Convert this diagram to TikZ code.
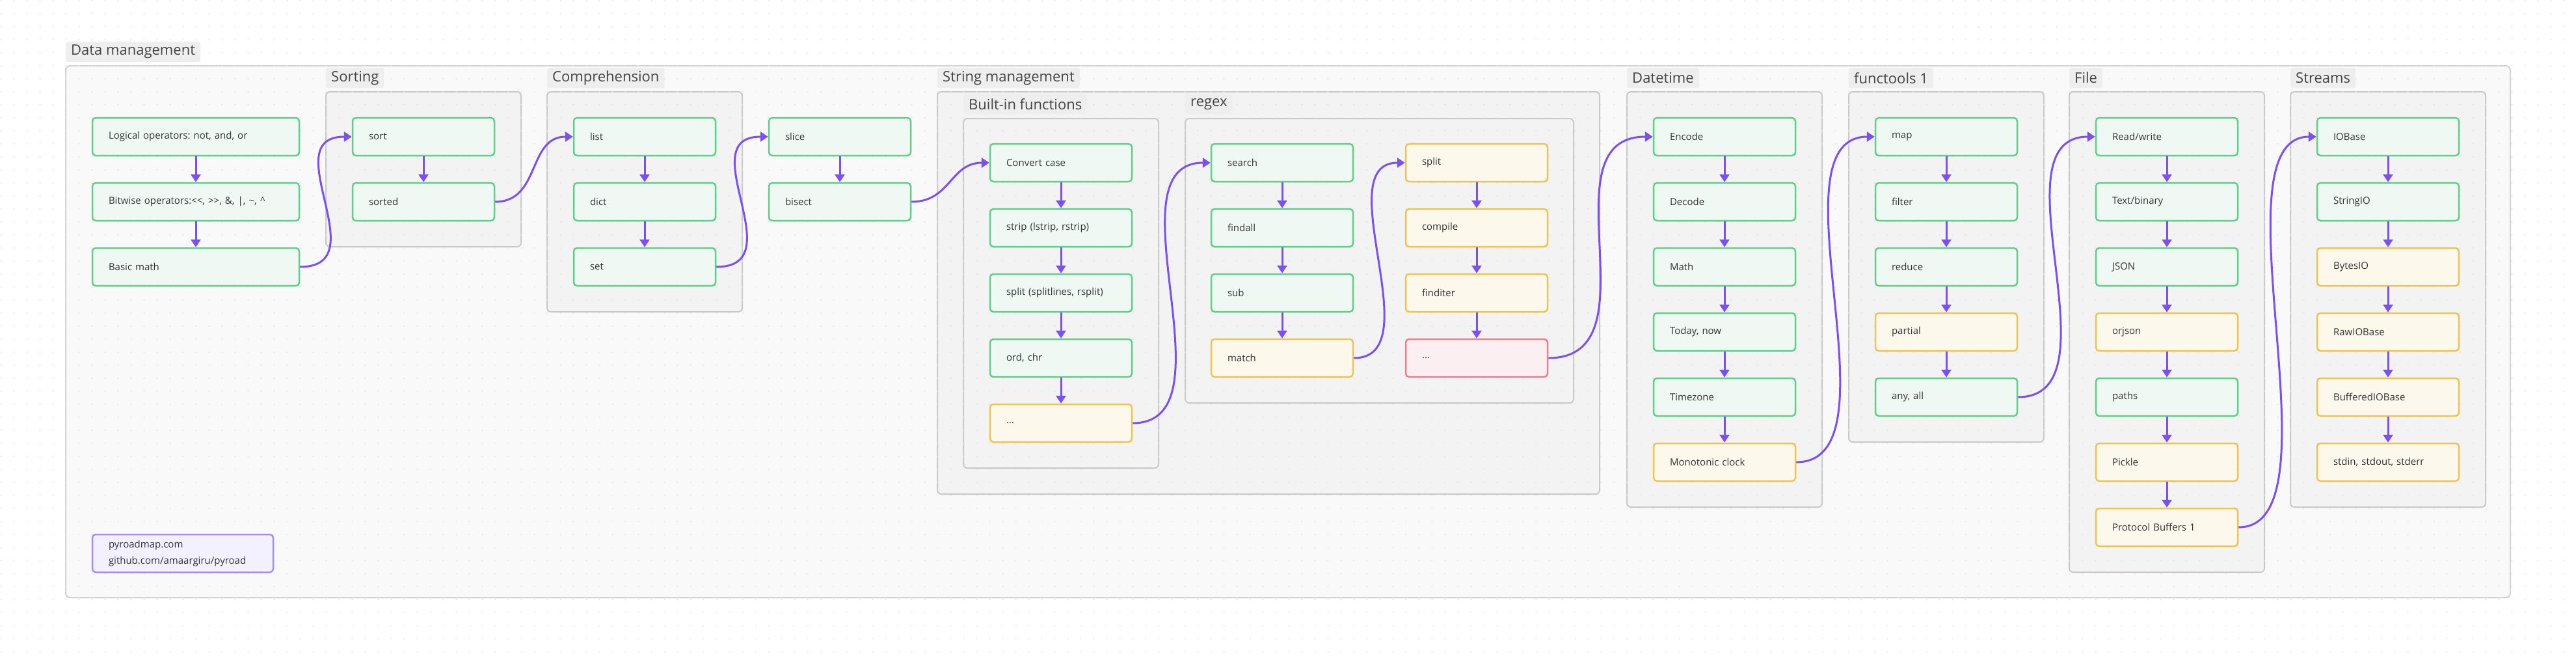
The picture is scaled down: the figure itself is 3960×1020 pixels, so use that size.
\documentclass[tikz,border=0pt]{standalone}
\usepackage{fontspec}
\setmainfont{Open Sans}
\usetikzlibrary{arrows.meta}
\frenchspacing
\definecolor{framebg}{HTML}{F9F9F9}
\definecolor{framebd}{HTML}{D2D2D2}
\definecolor{boxbg}{HTML}{F3F3F3}
\definecolor{boxbd}{HTML}{C9C9C9}
\definecolor{labbg}{HTML}{EEEEEE}
\definecolor{labtxt}{HTML}{444444}
\definecolor{txt}{HTML}{333333}
\definecolor{gbd}{HTML}{5DCF87}
\definecolor{gbg}{HTML}{EFF8F2}
\definecolor{ybd}{HTML}{EDC44F}
\definecolor{ybg}{HTML}{FCF8EC}
\definecolor{rbd}{HTML}{F07C8C}
\definecolor{rbg}{HTML}{FCEFF2}
\definecolor{pbd}{HTML}{A78BFA}
\definecolor{pbg}{HTML}{F3F0FF}
\definecolor{edgec}{HTML}{7950F2}
\definecolor{dotc}{HTML}{E4E4E4}
\newcommand{\nodefont}{\fontsize{15pt}{18pt}\selectfont\frenchspacing}
\newcommand{\labfont}{\fontsize{22pt}{26pt}\selectfont}
\tikzset{
  base/.style={rectangle, rounded corners=5pt, line width=2.5pt, minimum height=58pt,
    inner xsep=25pt, inner ysep=0pt, text width=168pt, align=left, font=\nodefont, text=txt},
  gn/.style={base, draw=gbd, fill=gbg},
  yl/.style={base, draw=ybd, fill=ybg},
  rd/.style={base, draw=rbd, fill=rbg},
  wide/.style={text width=268pt},
  infobox/.style={base, draw=pbd, fill=pbg, text width=228pt, font=\fontsize{15pt}{25pt}\selectfont},
  lab/.style={anchor=north west, fill=labbg, rounded corners=3pt, inner xsep=8pt, inner ysep=0pt,
    minimum height=31pt, font=\labfont, text=labtxt},
  grp/.style={draw=boxbd, fill=boxbg, line width=2pt, rounded corners=6pt},
  arr/.style={draw=edgec, line width=3pt, -{Triangle[length=12pt,width=15pt]}},
}
\begin{document}
\begin{tikzpicture}[x=1pt,y=-1pt]
\useasboundingbox (0,0) rectangle (3960,1020);
\fill[white] (0,0) rectangle (3960,1020);
% outer frame
\draw[draw=framebd, fill=framebg, line width=2pt, rounded corners=7pt] (101,101) rectangle (3859,918);
\node[lab] (ldm) at (101,64) {Data management};
% group boxes
\draw[grp] (501,141) rectangle (801,379);
\draw[grp] (841,141) rectangle (1141,479);
\draw[grp] (1441,141) rectangle (2459,759);
\draw[grp] (1481,182) rectangle (1781,719);
\draw[grp] (1822,182) rectangle (2419,619);
\draw[grp] (2501,141) rectangle (2801,779);
\draw[grp] (2842,141) rectangle (3142,679);
\draw[grp] (3181,141) rectangle (3481,879);
\draw[grp] (3521,141) rectangle (3821,779);
% dot grid
\foreach \j in {0,...,50}{
  \fill[dotc] \foreach \i in {0,...,197}{(20*\i+0.7,20*\j+0.2) rectangle +(1.6,1.6)};
}
% labels
\node[lab] (lsort) at (501,104) {Sorting};
\node[lab] (lcomp) at (841,104) {Comprehension};
\node[lab] (lstr) at (1441,104) {String management};
\node[lab] (lbif) at (1481,144) {Built-in functions};
\node[lab] (lre) at (1822,144) {regex};
\node[lab] (ldt) at (2501,104) {Datetime};
\node[lab] (lft) at (2842,104) {functools 1};
\node[lab] (lfile) at (3181,104) {File};
\node[lab] (lstream) at (3521,104) {Streams};
% column 0
\node[gn, wide] (logic) at (301,210) {Logical operators: not, and, or};
\node[gn, wide] (bitw) at (301,310) {Bitwise operators:<{}<, >{}>, \&, |, \textasciitilde, \textasciicircum};
\node[gn, wide] (bmath) at (301,410) {Basic math};
% sorting
\node[gn] (sort) at (651,210) {sort};
\node[gn] (sorted) at (651,310) {sorted};
% comprehension
\node[gn] (list) at (991,210) {list};
\node[gn] (dict) at (991,310) {dict};
\node[gn] (set) at (991,410) {set};
% slice
\node[gn] (slice) at (1291,210) {slice};
\node[gn] (bisect) at (1291,310) {bisect};
% built-in
\node[gn] (conv) at (1631,250) {Convert case};
\node[gn] (strip) at (1631,350) {strip (lstrip, rstrip)};
\node[gn] (splitb) at (1631,450) {split (splitlines, rsplit)};
\node[gn] (ordchr) at (1631,550) {ord, chr};
\node[yl] (dotsb) at (1631,650) {...};
% regex
\node[gn] (search) at (1971,250) {search};
\node[gn] (findall) at (1971,350) {findall};
\node[gn] (sub) at (1971,450) {sub};
\node[yl] (match) at (1971,550) {match};
\node[yl] (splitr) at (2270,250) {split};
\node[yl] (compile) at (2270,350) {compile};
\node[yl] (finditer) at (2270,450) {finditer};
\node[rd] (dotsr) at (2270,550) {...};
% datetime
\node[gn] (enc) at (2651,210) {Encode};
\node[gn] (dec) at (2651,310) {Decode};
\node[gn] (dmath) at (2651,410) {Math};
\node[gn] (today) at (2651,510) {Today, now};
\node[gn] (tz) at (2651,610) {Timezone};
\node[yl] (mono) at (2651,710) {Monotonic clock};
% functools
\node[gn] (map) at (2992,210) {map};
\node[gn] (filter) at (2992,310) {filter};
\node[gn] (reduce) at (2992,410) {reduce};
\node[yl] (partial) at (2992,510) {partial};
\node[gn] (anyall) at (2992,610) {any, all};
% file
\node[gn] (rw) at (3331,210) {Read/write};
\node[gn] (tb) at (3331,310) {Text/binary};
\node[gn] (json) at (3331,410) {JSON};
\node[yl] (orjson) at (3331,510) {orjson};
\node[gn] (paths) at (3331,610) {paths};
\node[yl] (pickle) at (3331,710) {Pickle};
\node[yl] (proto) at (3331,810) {Protocol Buffers 1};
% streams
\node[gn] (iob) at (3671,210) {IOBase};
\node[gn] (sio) at (3671,310) {StringIO};
\node[yl] (bio) at (3671,410) {BytesIO};
\node[yl] (rio) at (3671,510) {RawIOBase};
\node[yl] (bufio) at (3671,610) {BufferedIOBase};
\node[yl] (std) at (3671,710) {stdin, stdout, stderr};
% info
\node[infobox] (info) at (281,850) {pyroadmap.com\\github.com/amaargiru/pyroad};
% vertical edges
\foreach \a/\b in {logic/bitw, bitw/bmath, sort/sorted, list/dict, dict/set, slice/bisect,
  conv/strip, strip/splitb, splitb/ordchr, ordchr/dotsb,
  search/findall, findall/sub, sub/match, splitr/compile, compile/finditer, finditer/dotsr,
  enc/dec, dec/dmath, dmath/today, today/tz, tz/mono,
  map/filter, filter/reduce, reduce/partial, partial/anyall,
  rw/tb, tb/json, json/orjson, orjson/paths, paths/pickle, pickle/proto,
  iob/sio, sio/bio, bio/rio, rio/bufio, bufio/std}
  {\draw[arr] (\a.south) -- (\b.north);}
% cross edges
\foreach \a/\b/\d in {bmath/sort/120, sorted/list/70, set/slice/120, bisect/conv/60,
  dotsb/search/160, match/splitr/120, dotsr/enc/170, mono/map/165, anyall/rw/160, proto/iob/162}
  {\draw[arr] (\a.east) .. controls +(\d,0) and +(-\d,0) .. (\b.west);}
\end{tikzpicture}
\end{document}
